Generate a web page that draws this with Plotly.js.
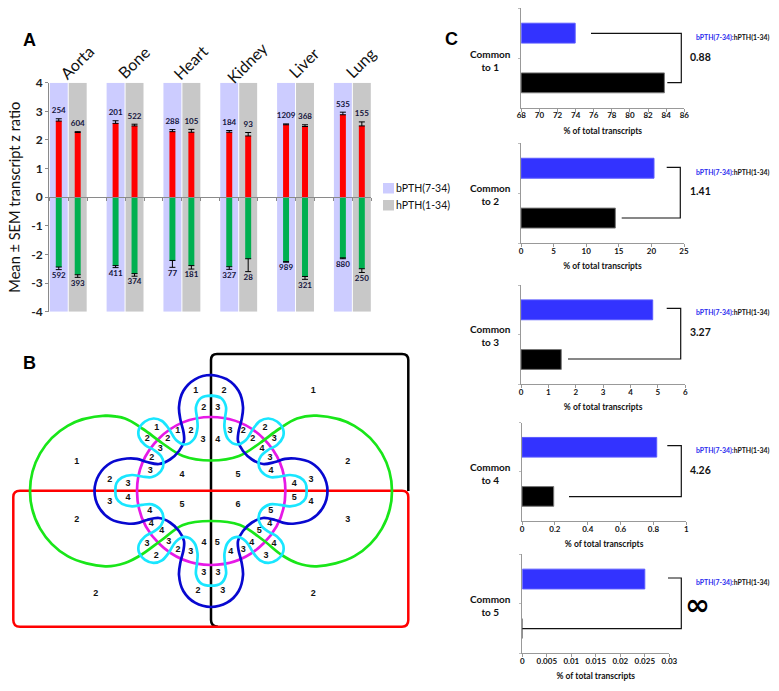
<!DOCTYPE html>
<html>
<head>
<meta charset="utf-8">
<title>bPTH(7-34) vs hPTH(1-34) transcripts</title>
<script src="https://cdn.plot.ly/plotly-3.0.1.min.js"></script>
<style>
  html, body { margin: 0; padding: 0; background: #fff; }
  #chart { width: 779px; height: 691px; }
</style>
</head>
<body>
<div id="chart"></div>
<script>
// Panel A - z ratios per tissue
const tissues = ['Aorta', 'Bone', 'Heart', 'Kidney', 'Liver', 'Lung'];
const bUpMean = [2.66, 2.58, 2.29, 2.27, 2.53, 2.88];
const bUpErr = [0.08, 0.09, 0.07, 0.06, 0.03, 0.09];
const hUpMean = [2.26, 2.49, 2.27, 2.14, 2.47, 2.49];
const hUpErr = [0.03, 0.06, 0.1, 0.12, 0.06, 0.14];
const bDownMean = [-2.44, -2.39, -2.21, -2.43, -2.25, -2.12];
const bDownErr = [0.09, 0.07, 0.24, 0.09, 0.02, 0.03];
const hDownMean = [-2.71, -2.67, -2.39, -2.15, -2.77, -2.5];
const hDownErr = [0.09, 0.09, 0.12, 0.45, 0.1, 0.13];
const bUpCount = ['254', '201', '288', '184', '1209', '535'];
const hUpCount = ['604', '522', '105', '93', '368', '155'];
const bDownCount = ['592', '411', '77', '327', '989', '880'];
const hDownCount = ['393', '374', '181', '28', '321', '250'];
const zTickVals = [-4, -3, -2, -1, 0, 1, 2, 3, 4];
const zTickText = ['-4', '-3', '-2', '-1', '0', '1', '2', '3', '4'];

// Panel B - venn curves in page pixels
const greenX = [105.3, 125, 143, 162, 183, 211, 239, 260, 279, 297, 316.7, 354.4, 381.9, 392, 381.9, 354.4, 316.7, 297, 281.7, 263, 240, 211, 183, 161.7, 141, 125, 105.3, 67.6, 40.1, 30, 40.1, 67.6, 105.3, 125];
const greenY = [415.7, 418.5, 429, 443, 456, 460.5, 456, 443, 429, 418.5, 415.7, 425.8, 453.4, 491, 528.6, 556.2, 566.3, 563, 555, 540, 525, 521, 525, 540, 555, 563, 566.3, 556.2, 528.6, 491, 453.4, 425.8, 415.7, 418.5];
const blueX = [211, 227, 238.7, 243, 241.5, 238.5, 238, 243, 252, 263, 275, 285, 295, 311.3, 323.1, 327.5, 323.1, 311.3, 295, 285, 275, 263, 252, 243, 238, 238.5, 241.5, 243, 238.7, 227, 211, 195, 183.3, 179, 180.5, 183.5, 184, 179, 170, 159, 147, 137, 127, 110.7, 98.9, 94.5, 98.9, 110.7, 127, 137, 147, 159, 170, 179, 184, 183.5, 180.5, 179, 183.3, 195, 211, 227];
const blueY = [375, 379.3, 391, 407, 420, 432, 441, 451, 459.5, 464, 462, 458.8, 458.5, 462.8, 474.8, 491, 507.3, 519.1, 523.5, 523.2, 520, 518, 522.5, 531, 541, 550, 562, 575, 591, 602.7, 607, 602.7, 591, 575, 562, 550, 541, 531, 522.5, 518, 520, 523.2, 523.5, 519.1, 507.3, 491, 474.8, 462.8, 458.5, 458.8, 462, 464, 459.5, 451, 441, 432, 420, 407, 391, 379.3, 375, 379.3];
const cyanX = [211, 221, 226, 225, 224.5, 228, 237, 246, 253, 260, 268.5, 277, 283, 283, 277, 268, 261, 258.5, 261, 270, 280, 290, 300, 305.5, 306.7,
    305.5, 300, 290, 280, 270, 261, 258.5, 261, 268, 277, 283, 283, 277, 268.5, 260, 253, 246, 237, 228, 224.5, 225, 226, 221, 211,
    201, 196, 197, 197.5, 194, 185, 176, 169, 162, 153.5, 145, 139, 139, 145, 154, 161, 163.5, 161, 152, 142, 132, 122, 116.5, 115.3,
    116.5, 122, 132, 142, 152, 161, 163.5, 161, 154, 145, 139, 139, 145, 153.5, 162, 169, 176, 185, 194, 197.5, 197, 196, 201, 211, 221];
const cyanY = [395.7, 398, 407, 418, 428, 439, 444.5, 440, 429, 421, 418.5, 421.5, 429, 437, 445, 450, 456, 463, 471, 477, 476.5, 475, 477.5, 483, 490.7,
    498.4, 503.9, 506.4, 504.9, 504.4, 510.4, 518.4, 525.4, 531.4, 536.4, 544.4, 552.4, 559.9, 562.9, 560.4, 552.4, 541.4, 536.9, 542.4, 553.4, 563.4, 574.4, 583.4, 585.7,
    583.4, 574.4, 563.4, 553.4, 542.4, 536.9, 541.4, 552.4, 560.4, 562.9, 559.9, 552.4, 544.4, 536.4, 531.4, 525.4, 518.4, 510.4, 504.4, 504.9, 506.4, 503.9, 498.4, 490.7,
    483, 477.5, 475, 476.5, 477, 471, 463, 456, 450, 445, 437, 429, 421.5, 418.5, 421, 429, 440, 444.5, 439, 428, 418, 407, 398, 395.7, 398];
const digitX = [76.7, 109.7, 109.7, 128, 128, 76.7, 95.7, 156.7, 147.3, 167.7, 177.7, 191, 160.3, 151.7, 150.3, 182, 182, 149.7, 151.3, 161.7, 147, 168.7, 178, 190.7, 156.3, 195.7, 224, 203.7, 217.7, 203, 217.7, 204, 217.3, 203.7, 218, 198, 222.7, 230, 243.3, 265, 252.7, 274.3, 262, 270, 271, 238, 238, 270.7, 269.7, 259.3, 251.7, 274, 243.3, 230.7, 266, 311, 294.3, 294.3, 311, 347.7, 347.7, 313.3, 313.3];
const digitY = [462, 479.3, 501.7, 483.3, 498, 519.3, 593.3, 427.3, 438.3, 438.3, 430.7, 430.7, 448.3, 457.7, 471, 475, 504.3, 511, 523.3, 531, 543.7, 542, 550, 551.3, 555.3, 391, 391, 407.3, 407.3, 439.3, 439.3, 542.3, 542.3, 573, 573, 591, 591, 430.7, 430.7, 427.3, 438.3, 438.3, 448.3, 457.7, 471, 475, 504.3, 511, 523.3, 531, 542.3, 543.7, 550, 551.3, 555.3, 479.3, 483.3, 498, 501.7, 462, 519.3, 391, 593.3];
const digitText = ['1', '2', '3', '3', '4', '2', '2', '1', '2', '2', '1', '2', '3', '2', '3', '4', '5', '4', '4', '4', '3', '3', '2', '3', '2', '1', '2', '2', '3', '3', '4', '4', '5', '3', '3', '2', '3', '3', '2', '2', '2', '3', '4', '3', '4', '5', '6', '5', '4', '5', '4', '4', '3', '4', '3', '3', '4', '5', '4', '2', '3', '1', '2'];

// Panel C - % of total transcripts
const cSeries = ['hPTH(1-34)', 'bPTH(7-34)'];
const bPercent = [73.95, 20.4, 4.81, 0.82, 0.025];
const hPercent = [83.8, 14.47, 1.47, 0.193, 0];
const ratios = ['0.88', '1.41', '3.27', '4.26', '∞'];
const commonLabels = ['Common<br>to 1', 'Common<br>to 2', 'Common<br>to 3', 'Common<br>to 4', 'Common<br>to 5'];

const W = 779, H = 691;
const FONT = 'Lato, sans-serif';
const AXIS_GRAY = '#8a8a8a';

// page pixels for each small chart in panel C
const cPanels = [
    { left: 521.3, right: 684.3, top: 8.3, bottom: 107.7, range: [68, 86], dtick: 2, labelY: 60, textY: 37.7, ratioY: 56.7 },
    { left: 521, right: 684, top: 143.3, bottom: 243, range: [0, 25], dtick: 5, labelY: 194.7, textY: 172, ratioY: 191.3 },
    { left: 521, right: 685.3, top: 285, bottom: 384.3, range: [0, 6], dtick: 1, labelY: 335.3, textY: 312.7, ratioY: 332 },
    { left: 522, right: 686.3, top: 422.7, bottom: 521, range: [0, 1], dtick: 0.2, labelY: 473, textY: 450.7, ratioY: 469.7 },
    { left: 522.3, right: 669.3, top: 554.3, bottom: 653.3, range: [0, 0.03], dtick: 0.005, labelY: 605, textY: 582.3, ratioY: 604 }
];
const bracketX = [
    [591, 681.3, 681.3, 667.3],
    [666.7, 680.3, 680.3, 621.7],
    [666.7, 680.7, 680.7, 568],
    [667.3, 681.3, 681.3, 569],
    [668, 681.3, 681.3, 522.3]
];
const bracketY = [
    [33.3, 33.3, 82.7, 82.7],
    [167.3, 167.3, 218, 218],
    [308.3, 308.3, 359, 359],
    [445.7, 445.7, 496.7, 496.7],
    [578, 578, 628.7, 628.7]
];

function xDomain(a, b) { return [a / W, b / W]; }
function yDomain(top, bottom) { return [1 - bottom / H, 1 - top / H]; }

function pageText(x, y, text, opts) {
    return Object.assign({
        xref: 'x7', yref: 'y7', x: x, y: y, text: text, showarrow: false,
        xanchor: 'center', yanchor: 'middle',
        font: { family: FONT, size: 12, color: '#111' }
    }, opts);
}

function panelATraces() {
    const traces = [];
    const sides = [
        { name: 'bPTH(7-34)', shift: -1 / 6, band: '#ccccff', up: bUpMean, upErr: bUpErr, down: bDownMean, downErr: bDownErr, upCount: bUpCount, downCount: bDownCount },
        { name: 'hPTH(1-34)', shift: 1 / 6, band: '#c8c8c8', up: hUpMean, upErr: hUpErr, down: hDownMean, downErr: hDownErr, upCount: hUpCount, downCount: hDownCount }
    ];
    sides.forEach(function(s) {
        const xs = tissues.map((t, i) => i + s.shift);
        traces.push({
            type: 'bar', name: s.name, x: xs, y: tissues.map(() => 8), base: -4, width: 0.316,
            marker: { color: s.band }, hoverinfo: 'skip', showlegend: false
        });
    });
    sides.forEach(function(s) {
        const xs = tissues.map((t, i) => i + s.shift);
        traces.push({
            type: 'bar', x: xs, y: s.up, width: 0.105, marker: { color: '#ff0000' }, showlegend: false,
            error_y: { type: 'data', symmetric: false, array: s.upErr, arrayminus: s.upErr.map(() => 0), color: '#000', thickness: 1, width: 3 }
        });
        traces.push({
            type: 'bar', x: xs, y: s.down, width: 0.105, marker: { color: '#00b050' }, showlegend: false,
            error_y: { type: 'data', symmetric: false, array: s.downErr.map(() => 0), arrayminus: s.downErr, color: '#000', thickness: 1, width: 3 }
        });
        traces.push({
            type: 'scatter', mode: 'text', x: xs, y: s.up.map((v, i) => v + s.upErr[i] + 0.12), text: s.upCount,
            textposition: 'top center', textfont: { family: FONT, size: 8, weight: 'bold', color: '#14143c' },
            hoverinfo: 'skip', showlegend: false
        });
        traces.push({
            type: 'scatter', mode: 'text', x: xs, y: s.down.map((v, i) => v - s.downErr[i] - 0.08), text: s.downCount,
            textposition: 'bottom center', textfont: { family: FONT, size: 8, weight: 'bold', color: '#14143c' },
            hoverinfo: 'skip', showlegend: false
        });
    });
    return traces;
}

function venn(x, y, color) {
    return {
        type: 'scatter', mode: 'lines', x: x, y: y, xaxis: 'x7', yaxis: 'y7',
        line: { color: color, width: 2.7, shape: 'spline', smoothing: 1 },
        hoverinfo: 'skip', showlegend: false
    };
}

function panelBTraces() {
    return [
        venn(greenX, greenY, '#19e619'),
        venn(blueX, blueY, '#0808d0'),
        venn(cyanX, cyanY, '#19e6ff'),
        {
            type: 'scatter', mode: 'text', x: digitX, y: digitY, text: digitText, xaxis: 'x7', yaxis: 'y7',
            textposition: 'middle center',
            textfont: { family: 'Liberation Sans, sans-serif', size: 9, weight: 'bold', color: '#111' },
            hoverinfo: 'skip', showlegend: false
        }
    ];
}

function panelCTraces() {
    const traces = [];
    bPercent.forEach(function(v, i) {
        traces.push({
            type: 'bar', orientation: 'h', y: cSeries, x: [hPercent[i], v], width: 0.4,
            xaxis: 'x' + (i + 2), yaxis: 'y' + (i + 2),
            marker: { color: ['#000000', '#3333ff'], line: { color: ['#777777', '#5a5aff'], width: 1 } },
            showlegend: false
        });
        traces.push({
            type: 'scatter', mode: 'lines', x: bracketX[i], y: bracketY[i], xaxis: 'x7', yaxis: 'y7',
            line: { color: '#111', width: 1.2 }, hoverinfo: 'skip', showlegend: false
        });
    });
    return traces;
}

function buildLayout() {
    const layout = {
        width: W, height: H,
        margin: { l: 0, r: 0, t: 0, b: 0 },
        paper_bgcolor: '#fff', plot_bgcolor: 'rgba(0,0,0,0)',
        barmode: 'overlay', showlegend: false, font: { family: FONT, color: '#111' },
        xaxis: {
            domain: xDomain(49.3, 371.3), range: [-1 / 3, 16 / 3], anchor: 'free', position: 1 - 197 / H,
            tick0: -1 / 3, dtick: 1 / 3, ticks: 'outside', ticklen: 3, tickcolor: AXIS_GRAY,
            showticklabels: false, showgrid: false, zeroline: false, showline: true, linecolor: AXIS_GRAY, linewidth: 1.2
        },
        yaxis: {
            domain: yDomain(82.7, 311.7), range: [-4, 4], tickvals: zTickVals, ticktext: zTickText, anchor: 'x',
            ticks: 'outside', ticklen: 3, tickcolor: AXIS_GRAY, showgrid: false, zeroline: false,
            showline: true, linecolor: AXIS_GRAY, linewidth: 1.2,
            tickfont: { family: FONT, size: 12, weight: 'bold', color: '#222' },
            title: { text: 'Mean ± SEM transcript z ratio', standoff: 7, font: { family: FONT, size: 14.6, color: '#111' } }
        },
        xaxis7: { domain: [0, 1], range: [0, W], visible: false, fixedrange: true, anchor: 'y7' },
        yaxis7: { domain: [0, 1], range: [H, 0], visible: false, fixedrange: true, anchor: 'x7' },
        shapes: [
            // legend swatches
            { type: 'rect', xref: 'x7', yref: 'y7', x0: 383, x1: 394, y0: 183, y1: 193.5, fillcolor: '#ccccff', line: { width: 0 } },
            { type: 'rect', xref: 'x7', yref: 'y7', x0: 383, x1: 394, y0: 200, y1: 210.5, fillcolor: '#c8c8c8', line: { width: 0 } },
            // venn sets
            {
                type: 'path', xref: 'x7', yref: 'y7', layer: 'below', line: { color: '#000', width: 2.5 },
                path: 'M 218 626.7 Q 211 626.7 211 620 L 211 360 Q 211 354 217 354 L 402 354 Q 408.3 354 408.3 360 L 408.3 491'
            },
            {
                type: 'path', xref: 'x7', yref: 'y7', layer: 'below', line: { color: '#ff0000', width: 2.5 },
                path: 'M 20 490.7 L 402 490.7 Q 408.3 490.7 408.3 497 L 408.3 620 Q 408.3 626.7 402 626.7 L 20 626.7 Q 13.3 626.7 13.3 620 L 13.3 497 Q 13.3 490.7 20 490.7 Z'
            },
            {
                type: 'circle', xref: 'x7', yref: 'y7', layer: 'below', line: { color: '#e619e6', width: 2.7 },
                x0: 137, x1: 285.4, y0: 417, y1: 565
            }
        ],
        annotations: [
            pageText(29, 39.5, 'A', { font: { family: 'Liberation Sans, sans-serif', size: 18, weight: 'bold', color: '#000' } }),
            pageText(29, 363, 'B', { font: { family: 'Liberation Sans, sans-serif', size: 18, weight: 'bold', color: '#000' } }),
            pageText(451, 38.5, 'C', { font: { family: 'Liberation Sans, sans-serif', size: 18, weight: 'bold', color: '#000' } }),
            pageText(394, 188, 'bPTH(7-34)', { xanchor: 'left', font: { family: FONT, size: 10.5, color: '#111' } }),
            pageText(394, 205, 'hPTH(1-34)', { xanchor: 'left', font: { family: FONT, size: 10.5, color: '#111' } })
        ]
    };

    tissues.forEach(function(name, i) {
        layout.annotations.push({
            xref: 'x', yref: 'y7', x: i + 0.14, y: 62, text: name, textangle: -45, showarrow: false,
            font: { family: FONT, size: 16, color: '#111' }
        });
    });

    cPanels.forEach(function(p, i) {
        const n = i + 2;
        layout['xaxis' + n] = {
            domain: xDomain(p.left, p.right), range: p.range, dtick: p.dtick, anchor: 'y' + n,
            ticks: 'outside', ticklen: 3, tickcolor: '#999', showgrid: false, zeroline: false,
            showline: true, linecolor: '#999', linewidth: 1, ticklabelstandoff: -3,
            tickfont: { family: FONT, size: 8, weight: 'bold', color: '#111' },
            title: { text: '% of total transcripts', standoff: 8, font: { family: FONT, size: 8.5, weight: 'bold', color: '#111' } }
        };
        layout['yaxis' + n] = {
            domain: yDomain(p.top, p.bottom), anchor: 'x' + n, type: 'category', range: [-0.5, 1.5],
            tickson: 'boundaries', ticks: 'outside', ticklen: 2, tickcolor: '#bbb', showticklabels: false,
            showgrid: false, zeroline: false, showline: true, linecolor: '#999', linewidth: 1
        };
        layout.annotations.push(pageText(490.5, p.labelY, commonLabels[i], {
            font: { family: FONT, size: 10, weight: 'bold', color: '#111' }
        }));
        layout.annotations.push(pageText(694, p.textY, '<span style="color:#2a2aee">bPTH(7-34):</span>hPTH(1-34)', {
            xanchor: 'left', font: { family: FONT, size: 6.9, weight: 'bold', color: '#111' }
        }));
        if (ratios[i] === '∞') {
            layout.annotations.push(pageText(697, p.ratioY, ratios[i], {
                font: { family: 'DejaVu Sans, sans-serif', size: 30, weight: 'bold', color: '#000' }
            }));
        } else {
            layout.annotations.push(pageText(688, p.ratioY, ratios[i], {
                xanchor: 'left', font: { family: FONT, size: 10.5, weight: 'bold', color: '#111' }
            }));
        }
    });
    return layout;
}

document.addEventListener('DOMContentLoaded', function() {
    const data = panelATraces().concat(panelCTraces(), panelBTraces());
    Plotly.newPlot('chart', data, buildLayout(), { displayModeBar: false, responsive: false });
});
</script>
</body>
</html>
